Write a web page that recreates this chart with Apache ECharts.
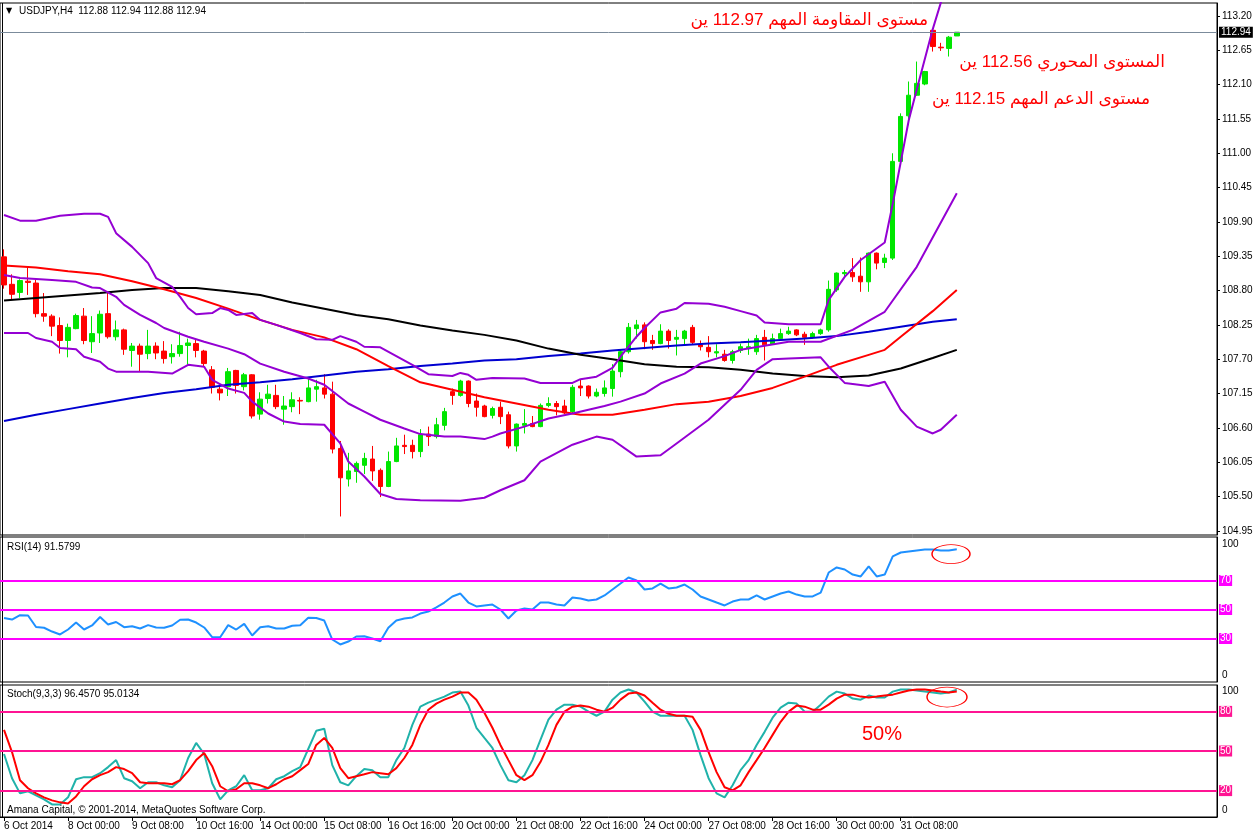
<!DOCTYPE html>
<html><head><meta charset="utf-8">
<script src="https://cdn.jsdelivr.net/npm/echarts@6/dist/echarts.min.js"></script>
<style>html,body{margin:0;padding:0;background:#fff}#c{width:1258px;height:835px}</style>
</head><body><div id="c"></div>
<script>
// ---------- DATA ----------
const tickLabels = ["6 Oct 2014","8 Oct 00:00","9 Oct 08:00","10 Oct 16:00","14 Oct 00:00","15 Oct 08:00","16 Oct 16:00","20 Oct 00:00","21 Oct 08:00","22 Oct 16:00","24 Oct 00:00","27 Oct 08:00","28 Oct 16:00","30 Oct 00:00","31 Oct 08:00"];
const priceTicks = [104.95,105.50,106.05,106.60,107.15,107.70,108.25,108.80,109.35,109.90,110.45,111.00,111.55,112.10,112.65,113.20];
const lastPrice = 112.94;

const opens = [109.34,108.90,108.77,108.95,108.92,108.43,108.39,108.24,108.00,108.19,
108.39,107.98,108.12,108.43,108.06,108.17,107.84,107.91,107.79,107.91,
107.83,107.74,107.79,107.92,107.95,107.83,107.53,107.22,107.26,107.52,
107.26,107.45,106.82,107.07,107.12,106.90,106.94,107.04,107.02,107.22,
107.24,107.14,106.27,105.78,105.90,106.00,106.10,105.92,105.66,106.06,
106.32,106.32,106.22,106.50,106.46,106.64,107.18,107.12,107.35,107.03,
106.95,106.80,106.93,106.81,106.31,106.64,106.67,106.62,106.96,106.99,
106.95,106.86,107.27,107.27,107.11,107.15,107.23,107.50,107.82,108.19,
108.25,108.00,107.95,108.15,108.02,108.03,108.21,107.93,107.89,107.80,
107.78,107.68,107.84,107.87,107.82,108.05,107.94,108.03,108.11,108.17,
108.10,108.05,108.11,108.17,108.81,109.07,109.09,109.03,108.94,109.40,
109.25,109.32,110.87,111.60,111.93,112.11,112.97,112.70,112.68,112.88];
const closes = [108.89,108.74,108.96,108.93,108.43,108.39,108.23,108.00,108.21,108.40,
108.00,108.11,108.42,108.06,108.17,107.86,107.91,107.78,107.91,107.80,
107.71,107.79,107.92,107.96,107.84,107.63,107.25,107.16,107.50,107.28,
107.45,106.79,107.06,107.14,106.94,106.95,107.05,107.03,107.24,107.26,
107.14,106.26,105.80,105.91,106.03,106.11,105.91,105.66,106.06,106.31,
106.30,106.22,106.49,106.46,106.65,106.86,107.12,107.35,106.99,106.93,
106.78,106.91,106.78,106.31,106.66,106.67,106.62,106.96,106.99,106.94,
106.84,107.25,107.24,107.11,107.17,107.24,107.51,107.82,108.21,108.25,
107.98,107.95,108.15,108.00,108.05,108.15,107.97,107.90,107.82,107.82,
107.68,107.82,107.90,107.90,108.03,107.93,108.03,108.11,108.15,108.09,
108.05,108.11,108.17,108.82,109.08,109.09,109.02,108.94,109.40,109.24,
109.32,110.87,111.59,111.93,112.12,112.31,112.71,112.69,112.86,112.94];
const highs = [109.46,109.06,108.98,109.18,108.97,108.76,108.42,108.37,108.27,108.43,
108.52,108.39,108.48,108.76,108.32,108.19,107.96,107.95,108.17,107.97,
107.99,107.94,108.14,108.03,108.01,107.85,107.59,107.29,107.56,107.53,
107.48,107.46,107.17,107.29,107.29,107.11,107.17,107.09,107.39,107.37,
107.46,107.34,106.39,106.20,106.06,106.20,106.31,105.95,106.22,106.44,
106.49,106.41,106.58,106.62,106.76,106.92,107.23,107.37,107.36,107.15,
106.97,106.94,107.02,106.86,106.67,106.90,106.79,106.99,107.09,107.03,
107.05,107.29,107.37,107.28,107.23,107.36,107.62,107.86,108.28,108.33,
108.29,108.09,108.26,108.18,108.17,108.17,108.25,108.00,108.07,107.94,
107.85,107.85,107.95,108.03,108.09,108.17,108.11,108.19,108.22,108.18,
108.14,108.14,108.19,108.96,109.09,109.13,109.32,109.33,109.41,109.41,
109.39,111.00,111.64,112.15,112.47,112.32,112.98,112.77,112.88,112.94];
const lows = [108.83,108.66,108.68,108.73,108.37,108.30,108.07,107.79,107.73,108.18,
107.94,107.80,107.96,108.03,108.00,107.77,107.58,107.50,107.70,107.70,
107.63,107.63,107.74,107.61,107.73,107.59,107.15,107.04,107.11,107.15,
107.20,106.75,106.73,106.99,106.90,106.65,106.85,106.82,107.01,107.02,
107.07,106.19,105.18,105.66,105.72,105.86,105.75,105.49,105.65,106.05,
106.18,106.11,106.13,106.31,106.43,106.56,106.97,107.10,106.93,106.78,
106.77,106.75,106.66,106.27,106.22,106.51,106.61,106.61,106.93,106.80,
106.82,106.83,107.11,107.07,107.09,107.10,107.10,107.41,107.79,108.03,
107.86,107.85,107.94,107.87,107.76,107.94,107.94,107.84,107.73,107.73,
107.66,107.63,107.80,107.77,107.77,107.68,107.93,108.01,108.09,108.07,
107.93,108.03,108.09,108.14,108.78,109.02,108.94,108.78,108.78,109.14,
109.16,109.29,110.85,111.45,111.92,112.09,112.63,112.64,112.55,112.88];

// Bollinger Bands (bar index, value)
const bbUpper = [[0,110.01],[2,109.92],[4,109.92],[7,110.00],[10,110.03],[12,110.03],[13,109.98],[14,109.72],[16,109.50],[18,109.24],[19,109.00],[21,108.86],[22,108.70],[23,108.52],[24,108.42],[26,108.44],[27,108.52],[28,108.49],[29,108.41],[31,108.44],[32,108.33],[34,108.25],[37,108.12],[39,108.02],[41,108.01],[42,108.07],[44,107.98],[45,107.90],[47,107.89],[49,107.75],[51,107.61],[53,107.46],[56,107.43],[57,107.48],[58,107.45],[59,107.37],[61,107.40],[65,107.39],[67,107.32],[71,107.32],[72,107.38],[74,107.42],[76,107.56],[77,107.74],[79,108.06],[80,108.20],[82,108.45],[84,108.51],[85,108.60],[88,108.59],[90,108.54],[92,108.47],[94,108.40],[95,108.29],[98,108.26],[102,108.26],[103,108.65],[105,109.02],[107,109.29],[110,109.57],[111,110.19],[113,111.53],[114,112.02],[116,112.99],[119,114.25]];
const bbMiddle = [[0,109.05],[2,109.00],[6,108.97],[9,108.94],[11,108.85],[12,108.84],[14,108.70],[15,108.57],[17,108.41],[19,108.28],[20,108.20],[23,108.06],[25,107.98],[28,107.87],[30,107.78],[32,107.63],[35,107.50],[38,107.39],[40,107.29],[43,106.99],[45,106.86],[47,106.73],[50,106.59],[52,106.50],[55,106.46],[57,106.46],[60,106.42],[61,106.46],[62,106.51],[65,106.62],[68,106.75],[71,106.83],[73,106.89],[75,106.95],[77,107.02],[80,107.15],[82,107.31],[85,107.47],[87,107.63],[90,107.75],[92,107.85],[98,107.98],[102,107.98],[106,108.17],[110,108.46],[114,109.18],[119,110.36]];
const bbLower = [[0,108.12],[3,108.12],[4,108.04],[6,107.98],[7,107.88],[9,107.86],[10,107.74],[12,107.66],[13,107.55],[14,107.50],[18,107.50],[21,107.47],[23,107.61],[25,107.58],[26,107.37],[28,107.23],[30,107.16],[31,107.02],[33,106.83],[35,106.70],[37,106.66],[40,106.65],[42,106.35],[43,106.06],[45,105.82],[47,105.54],[49,105.46],[52,105.44],[57,105.43],[60,105.48],[62,105.60],[65,105.76],[67,106.06],[71,106.33],[74,106.46],[76,106.41],[79,106.14],[82,106.16],[84,106.35],[88,106.73],[90,106.97],[92,107.21],[94,107.53],[96,107.70],[98,107.71],[102,107.73],[103,107.58],[105,107.32],[108,107.27],[110,107.34],[112,106.89],[114,106.62],[116,106.51],[117,106.57],[119,106.81]];
// Moving averages (bar index, value)
const maRed = [[0,109.20],[4,109.17],[8,109.11],[12,109.06],[16,108.95],[20,108.82],[24,108.68],[28,108.51],[32,108.33],[36,108.17],[40,108.05],[44,107.86],[48,107.59],[52,107.33],[56,107.21],[60,107.09],[64,106.99],[68,106.89],[72,106.81],[76,106.81],[80,106.89],[84,106.98],[88,107.02],[92,107.11],[96,107.24],[100,107.42],[104,107.61],[108,107.77],[110,107.85],[112,108.06],[116,108.47],[119,108.81]];
const maBlack = [[0,108.64],[4,108.68],[8,108.72],[12,108.76],[16,108.81],[20,108.84],[24,108.84],[28,108.79],[32,108.73],[36,108.61],[40,108.51],[44,108.41],[48,108.34],[52,108.24],[56,108.16],[60,108.09],[64,108.00],[68,107.87],[72,107.77],[76,107.70],[80,107.62],[84,107.58],[88,107.57],[92,107.53],[96,107.47],[100,107.43],[104,107.41],[108,107.44],[112,107.55],[116,107.72],[119,107.85]];
const maBlue = [[0,106.71],[4,106.81],[8,106.90],[12,106.99],[16,107.08],[20,107.16],[24,107.22],[28,107.29],[32,107.33],[36,107.38],[40,107.44],[44,107.50],[48,107.54],[52,107.59],[56,107.63],[60,107.68],[64,107.70],[68,107.75],[72,107.79],[76,107.84],[80,107.88],[84,107.92],[88,107.95],[92,107.97],[96,108.00],[100,108.03],[104,108.07],[108,108.14],[112,108.22],[116,108.30],[119,108.34]];

const rsi = [44.1,43.1,46.1,45.9,37.9,37.4,34.8,32.8,36.2,41.0,
36.2,39.0,44.8,39.7,41.4,37.8,38.5,36.9,39.2,37.6,
37.4,39.0,42.9,43.1,41.0,37.6,30.9,30.9,39.2,36.2,
40.1,32.1,37.8,38.5,36.9,36.9,38.8,39.2,44.3,44.1,
42.4,29.3,25.9,27.9,31.4,31.6,30.0,28.1,37.4,42.4,
43.8,44.5,47.2,48.6,51.4,54.8,59.0,61.0,54.8,52.1,
52.8,53.4,50.0,43.8,49.3,50.7,50.0,54.8,54.8,53.4,
52.8,58.3,57.6,56.2,56.9,59.7,63.8,67.9,72.1,70.0,
63.8,64.5,67.9,64.5,65.2,67.2,63.8,59.0,56.9,54.8,
52.8,55.5,56.9,56.9,59.7,56.9,59.0,61.0,62.4,60.3,
59.0,59.0,61.7,75.5,79.0,77.6,74.1,72.8,79.7,72.8,
74.1,86.6,89.3,90.0,90.7,91.4,91.4,90.7,90.7,91.58];
const rsiLevels = [70,50,30];

const stochMain = [47.7,29.4,17.9,19.5,16.4,13.4,9.5,9.5,14.9,28.6,
30.2,30.2,33.2,37.8,43.1,29.4,27.1,21.8,26.3,26.3,
24.0,22.5,27.9,44.7,56.1,47.7,25.6,13.4,20.2,23.3,
31.7,20.2,20.2,21.8,28.6,30.9,34.7,37.8,51.5,65.3,
66.8,39.3,26.3,24.0,30.9,36.3,35.5,30.2,30.2,43.1,
52.3,69.8,83.6,86.6,88.9,91.2,94.3,95.0,84.4,67.6,
59.9,52.3,39.3,27.9,26.3,31.7,43.1,58.4,73.7,81.3,
85.1,85.1,83.6,79.8,76.7,79.8,88.9,94.3,96.6,94.3,
87.4,79.8,76.7,76.7,76.7,76.7,66.0,46.9,29.4,17.9,
14.9,24.0,35.5,43.1,54.6,64.5,75.2,82.8,86.6,85.9,
79.8,79.8,85.1,91.2,95.0,93.5,89.7,88.9,92.0,90.5,
90.5,95.0,96.6,96.6,95.8,95.0,94.3,93.5,94.3,96.46];
const stochSignal = [66.0,49.2,27.9,21.8,17.9,14.9,12.6,11.1,10.3,15.6,
23.3,28.6,31.7,34.0,37.8,36.3,33.2,26.3,25.6,25.6,
25.6,24.8,27.9,34.7,43.1,48.5,38.5,23.3,19.5,21.0,
25.6,25.6,24.0,21.8,24.8,28.6,30.9,35.5,40.1,54.6,
59.9,52.3,37.0,29.4,30.9,32.4,34.0,33.2,32.4,37.0,
44.7,54.6,69.8,81.3,85.9,88.9,91.2,94.3,94.3,88.9,
79.0,67.6,54.6,43.1,31.7,27.9,31.7,41.6,54.6,69.8,
79.8,83.6,84.4,83.6,81.3,79.8,82.8,88.9,93.5,94.3,
92.0,86.6,81.3,78.2,76.7,76.7,76.0,66.0,49.2,34.0,
22.5,20.2,24.0,34.0,43.1,52.3,62.2,72.1,79.8,84.4,
83.6,81.3,81.3,85.1,89.7,92.7,92.7,91.2,90.5,91.2,
92.0,92.7,94.3,95.8,96.6,96.6,95.8,95.0,94.3,95.01];
const stochLevels = [80,50,20];

// ---------- CHART ----------
const SLOTS = 152;
const cats = Array.from({length: SLOTS}, (_, i) => String(i));
const candles = opens.map((o, i) => [o, closes[i], lows[i], highs[i]]);
const FONT = 'Liberation Sans, Arial, DejaVu Sans, sans-serif';
const GL = 0, GW = 1217;

const chart = echarts.init(document.getElementById('c'), null, {renderer: 'canvas'});

function hiddenX(gi) {
  return {type: 'category', gridIndex: gi, data: cats, boundaryGap: true,
    axisLine: {show: false}, axisTick: {show: false}, axisLabel: {show: false}, splitLine: {show: false}};
}
function line(data, color, xi, yi, w) {
  return {type: 'line', xAxisIndex: xi, yAxisIndex: yi, data: data, showSymbol: false, symbol: 'none',
    smooth: false, z: 3, lineStyle: {color: color, width: w || 2}, itemStyle: {color: color}, silent: true};
}
function levelLines(levels, color) {
  return {symbol: 'none', silent: true, animation: false,
    lineStyle: {color: color, width: 2, type: 'solid'},
    label: {show: true, position: 'end', distance: 2, color: '#fff', backgroundColor: color,
      fontSize: 10, fontFamily: FONT, padding: [1, 1, 0, 1], formatter: p => String(p.value)},
    data: levels.map(v => ({yAxis: v}))};
}

const option = {
  animation: false,
  backgroundColor: '#fff',
  grid: [
    {left: GL, top: 3, width: GW, height: 532, show: true, borderColor: '#000', borderWidth: 1},
    {left: GL, top: 537, width: GW, height: 145, show: true, borderColor: '#000', borderWidth: 1},
    {left: GL, top: 685, width: GW, height: 132, show: true, borderColor: '#000', borderWidth: 1}
  ],
  xAxis: [hiddenX(0), hiddenX(1), {
    type: 'category', gridIndex: 2, data: cats, boundaryGap: true,
    axisLine: {show: true, lineStyle: {color: '#000'}},
    axisTick: {show: true, alignWithLabel: true, length: 4, lineStyle: {color: '#000'},
      interval: (i) => i % 8 === 0 && i / 8 < tickLabels.length},
    axisLabel: {show: true, color: '#000', fontSize: 10, fontFamily: FONT, align: 'left', margin: 4,
      interval: (i) => i % 8 === 0 && i / 8 < tickLabels.length,
      formatter: (v, i) => tickLabels[i / 8] || ''},
    splitLine: {show: false}
  }],
  yAxis: [
    {type: 'value', gridIndex: 0, position: 'right', min: 104.883, max: 113.408, scale: true,
      axisLine: {show: true, lineStyle: {color: '#000'}},
      axisTick: {show: true, length: 3, customValues: priceTicks, lineStyle: {color: '#000'}},
      axisLabel: {show: true, customValues: priceTicks, formatter: v => v.toFixed(2), color: '#000',
        fontSize: 10, fontFamily: FONT, margin: 5},
      splitLine: {show: false}},
    {type: 'value', gridIndex: 1, position: 'right', min: 0, max: 100,
      axisLine: {show: true, lineStyle: {color: '#000'}},
      axisTick: {show: false},
      axisLabel: {show: true, customValues: [4.8, 95.2], formatter: v => (v > 50 ? '100' : '0'),
        color: '#000', fontSize: 10, fontFamily: FONT, margin: 5},
      splitLine: {show: false}},
    {type: 'value', gridIndex: 2, position: 'right', min: 0, max: 100,
      axisLine: {show: true, lineStyle: {color: '#000'}},
      axisTick: {show: false},
      axisLabel: {show: true, customValues: [5.0, 95.6], formatter: v => (v > 50 ? '100' : '0'),
        color: '#000', fontSize: 10, fontFamily: FONT, margin: 5},
      splitLine: {show: false}}
  ],
  series: [
    {type: 'candlestick', xAxisIndex: 0, yAxisIndex: 0, data: candles, barWidth: 5, z: 2, silent: true,
      itemStyle: {color: '#00e600', borderColor: '#00e600', color0: '#ff0000', borderColor0: '#ff0000', borderWidth: 1},
      markLine: {symbol: 'none', silent: true,
        lineStyle: {color: '#7b8b9b', width: 1, type: 'solid'},
        label: {show: true, position: 'end', distance: 2, color: '#fff', backgroundColor: '#000',
          fontSize: 10, fontFamily: FONT, padding: [1, 2, 0, 2], formatter: () => lastPrice.toFixed(2)},
        data: [{yAxis: lastPrice}]}},
    line(maBlue, '#0000d0', 0, 0),
    line(maBlack, '#000000', 0, 0),
    line(maRed, '#ff0000', 0, 0),
    line(bbUpper, '#9400d3', 0, 0),
    line(bbMiddle, '#9400d3', 0, 0),
    line(bbLower, '#9400d3', 0, 0),
    Object.assign(line(rsi, '#1e90ff', 1, 1), {markLine: levelLines(rsiLevels, '#ff00ff'), z: 4}),
    Object.assign(line(stochMain, '#20b2aa', 2, 2), {markLine: levelLines(stochLevels, '#ff1493')}),
    line(stochSignal, '#ff0000', 2, 2)
  ],
  graphic: [
    {type: 'line', shape: {x1: 2.5, y1: 3, x2: 2.5, y2: 817}, style: {stroke: '#000', lineWidth: 1}, silent: true},
    {type: 'text', x: 6, y: 7, style: {text: '▼', fontSize: 8, fill: '#000', fontFamily: 'DejaVu Sans'}, silent: true},
    {type: 'text', x: 19, y: 6, style: {text: 'USDJPY,H4  112.88 112.94 112.88 112.94', fontSize: 10, fill: '#000', fontFamily: FONT}, silent: true},
    {type: 'text', x: 7, y: 542, style: {text: 'RSI(14) 91.5799', fontSize: 10, fill: '#000', fontFamily: FONT}, silent: true},
    {type: 'text', x: 7, y: 689, style: {text: 'Stoch(9,3,3) 96.4570 95.0134', fontSize: 10, fill: '#000', fontFamily: FONT}, silent: true},
    {type: 'text', x: 7, y: 805, style: {text: 'Amana Capital, © 2001-2014, MetaQuotes Software Corp.', fontSize: 10, fill: '#000', fontFamily: FONT}, silent: true},
    {type: 'text', x: 928, y: 20, style: {text: 'مستوى المقاومة المهم 112.97 ين', fontSize: 17, fill: '#ff0000', fontFamily: FONT, align: 'right', verticalAlign: 'middle'}, silent: true, z: 10},
    {type: 'text', x: 1165, y: 62, style: {text: 'المستوى المحوري 112.56 ين', fontSize: 17, fill: '#ff0000', fontFamily: FONT, align: 'right', verticalAlign: 'middle'}, silent: true, z: 10},
    {type: 'text', x: 1150, y: 99, style: {text: 'مستوى الدعم المهم 112.15 ين', fontSize: 17, fill: '#ff0000', fontFamily: FONT, align: 'right', verticalAlign: 'middle'}, silent: true, z: 10},
    {type: 'text', x: 862, y: 734, style: {text: '50%', fontSize: 20, fill: '#ff0000', fontFamily: FONT, verticalAlign: 'middle'}, silent: true, z: 10},
    {type: 'circle', x: 951, y: 554, scaleY: 0.5, shape: {cx: 0, cy: 0, r: 19}, style: {fill: 'none', stroke: '#ff0000', lineWidth: 1.5, strokeNoScale: true}, silent: true, z: 10},
    {type: 'circle', x: 947, y: 697, scaleY: 0.5, shape: {cx: 0, cy: 0, r: 20}, style: {fill: 'none', stroke: '#ff0000', lineWidth: 1.5, strokeNoScale: true}, silent: true, z: 10}
  ]
};
chart.setOption(option);
</script>
</body></html>
